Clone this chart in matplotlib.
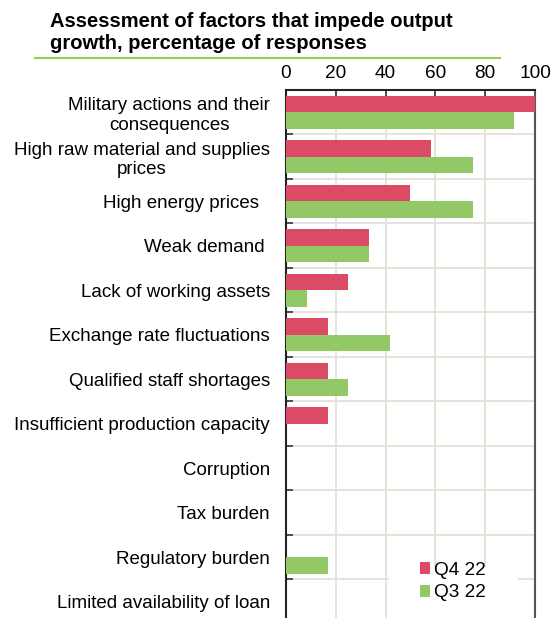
import numpy as np
import matplotlib.pyplot as plt
from matplotlib.patches import Patch, Rectangle
from matplotlib.lines import Line2D

plt.rcParams['font.family'] = ['Liberation Sans', 'DejaVu Sans']

categories = ['Military actions and their\nconsequences',
              'High raw material and supplies\nprices',
              'High energy prices  ',
              'Weak demand ',
              'Lack of working assets',
              'Exchange rate fluctuations',
              'Qualified staff shortages',
              'Insufficient production capacity',
              'Corruption',
              'Tax burden',
              'Regulatory burden',
              'Limited availability of loan']
q4_22 = [100, 58.3, 50, 33.3, 25, 16.7, 16.7, 16.7, 0, 0, 0, 0]
q3_22 = [91.7, 75, 75, 33.3, 8.3, 41.7, 25, 0, 0, 0, 16.7, 0]
xticks = [0, 20, 40, 60, 80, 100]

red = '#dc4b65'
green = '#92c966'
grid_col = '#e2e2d8'

fig = plt.figure(figsize=(5.51, 6.18), dpi=100)
ax = fig.add_axes([0.519, -0.0097, 0.452, 0.8641])

n = len(categories)
y = np.arange(n)
h = 0.37
ax.barh(y - h / 2, q4_22, height=h, color=red, linewidth=0, label='Q4 22', zorder=3)
ax.barh(y + h / 2, q3_22, height=h, color=green, linewidth=0, label='Q3 22', zorder=3)

ax.set_xlim(0, 100)
ax.set_ylim(n - 0.5, -0.5)
ax.xaxis.tick_top()
ax.set_xticks(xticks)
ax.set_xticklabels([str(v) for v in xticks], fontsize=13.7)
ax.tick_params(axis='x', direction='in', length=4, width=1.2, color='#333333', pad=6)
ax.set_yticks(y)
ax.set_yticklabels(categories, fontsize=13.5, multialignment='center')
ax.tick_params(axis='y', which='major', length=0, pad=11.5)
ax.set_yticks(y[:-1] + 0.5, minor=True)
ax.tick_params(axis='y', which='minor', direction='in', length=5, width=1.2, color='#333333')

ax.grid(axis='x', color=grid_col, linewidth=1.3, zorder=0)
ax.grid(axis='y', which='minor', color=grid_col, linewidth=1.3, zorder=0)

for side in ['top', 'left']:
    ax.spines[side].set_color('#222222')
    ax.spines[side].set_linewidth(1.5)
ax.spines['right'].set_color('#555555')
ax.spines['right'].set_linewidth(1.5)
ax.spines['bottom'].set_visible(False)

# white box behind the legend, wider than the legend itself
ax.add_patch(Rectangle((0.412, 0.012), 0.52, 0.095, transform=ax.transAxes,
                       facecolor='white', edgecolor='none', zorder=2))

handles = [Patch(facecolor=red, label='Q4 22'), Patch(facecolor=green, label='Q3 22')]
leg = ax.legend(handles=handles, loc='upper left', bbox_to_anchor=(414 / 551, 1 - 556 / 618),
                bbox_transform=fig.transFigure, borderaxespad=0,
                frameon=False, fontsize=13.7, handlelength=0.55, handleheight=0.6,
                handletextpad=0.2, labelspacing=0.3, borderpad=0.3)

fig.text(50 / 551, 1 - 12 / 618, 'Assessment of factors that impede output\ngrowth, percentage of responses',
         fontsize=14.5, fontweight='bold', va='top', ha='left', linespacing=1.2)
fig.add_artist(Line2D([35 / 551, 500 / 551], [1 - 58 / 618, 1 - 58 / 618],
                      color='#92d050', linewidth=1.5))

fig.savefig('out.png', dpi=100)
